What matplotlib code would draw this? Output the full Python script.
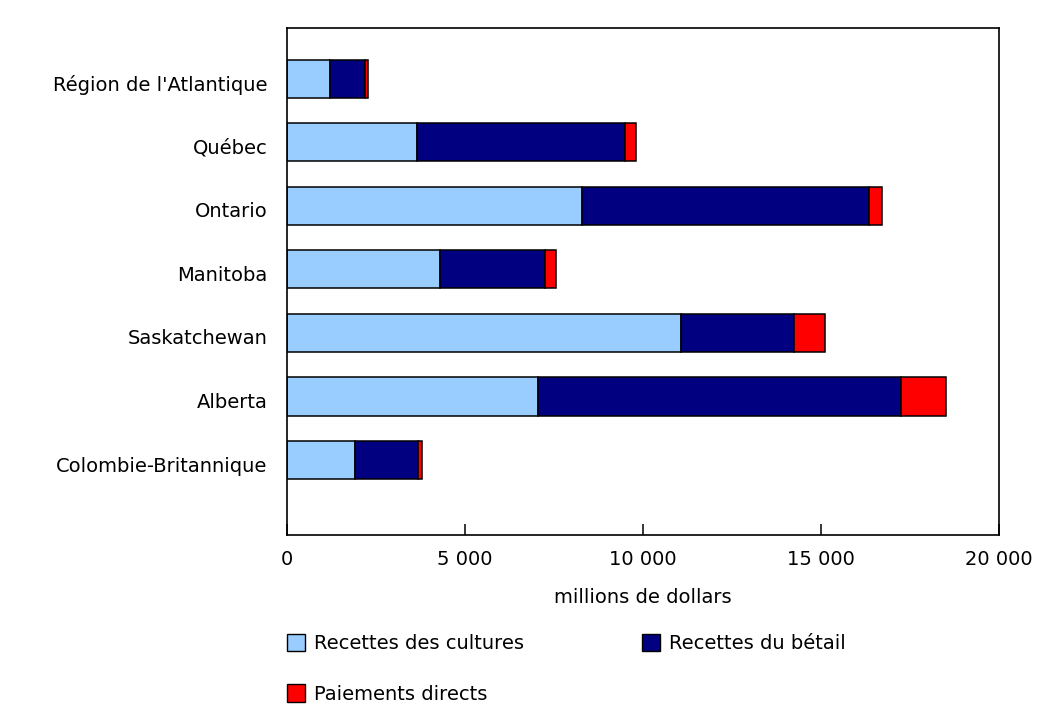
import numpy as np
from matplotlib import pyplot as plt
from matplotlib.patches import Patch
import matplotlib.transforms as mtransforms

regions = ["Région de l'Atlantique", "Québec", "Ontario", "Manitoba",
           "Saskatchewan", "Alberta", "Colombie-Britannique"]
cultures = [1210, 3645, 8295, 4300, 11065, 7040, 1900]
betail = [985, 5850, 8055, 2950, 3190, 10195, 1790]
paiements = [75, 300, 365, 310, 850, 1275, 100]

c_cult = "#99ccff"
c_bet = "#000080"
c_pai = "#ff0000"

plt.rcParams['font.family'] = ['DejaVu Sans']
fs = 14

fig = plt.figure(figsize=(10.61, 7.19), dpi=100)
ax = fig.add_axes([287 / 1061, 1 - 535 / 719, 712 / 1061, 507 / 719])

y = np.arange(len(regions))
h = 0.6
left2 = np.array(cultures)
left3 = left2 + np.array(betail)
ax.barh(y, cultures, height=h, color=c_cult, edgecolor="black", linewidth=1.1)
ax.barh(y, betail, left=left2, height=h, color=c_bet, edgecolor="black", linewidth=1.1)
ax.barh(y, paiements, left=left3, height=h, color=c_pai, edgecolor="black", linewidth=1.1)

ax.set_xlim(0, 20000)
ax.set_ylim(7.18, -0.8)
ax.set_yticks(y)
ax.set_yticklabels(regions, fontsize=fs)
ax.tick_params(axis="y", length=0, pad=14)
# labels sit a little below the bar centres in the original
shift = mtransforms.ScaledTranslation(0, -4 / 100, fig.dpi_scale_trans)
for lab in ax.get_yticklabels():
    lab.set_transform(lab.get_transform() + shift)

xt = [0, 5000, 10000, 15000, 20000]
ax.set_xticks(xt)
ax.set_xticklabels(["{:,}".format(v).replace(",", " ") for v in xt], fontsize=fs)
ax.tick_params(axis="x", direction="in", length=8, width=1.1, pad=10.5)
ax.set_xlabel("millions de dollars", fontsize=fs, labelpad=14)

for s in ax.spines.values():
    s.set_linewidth(1.2)

handles = [Patch(facecolor=c_cult, edgecolor="black", label="Recettes des cultures"),
           Patch(facecolor=c_pai, edgecolor="black", label="Paiements directs"),
           Patch(facecolor=c_bet, edgecolor="black", label="Recettes du bétail")]
fig.legend(handles=handles, ncol=2, loc="upper left",
           bbox_to_anchor=(287 / 1061, 1 - 634 / 719), frameon=False,
           fontsize=fs, handlelength=0.92, handleheight=1.0, handletextpad=0.48,
           columnspacing=6.05, labelspacing=1.6, borderaxespad=0, borderpad=0)

fig.savefig("out.png", dpi=100)
